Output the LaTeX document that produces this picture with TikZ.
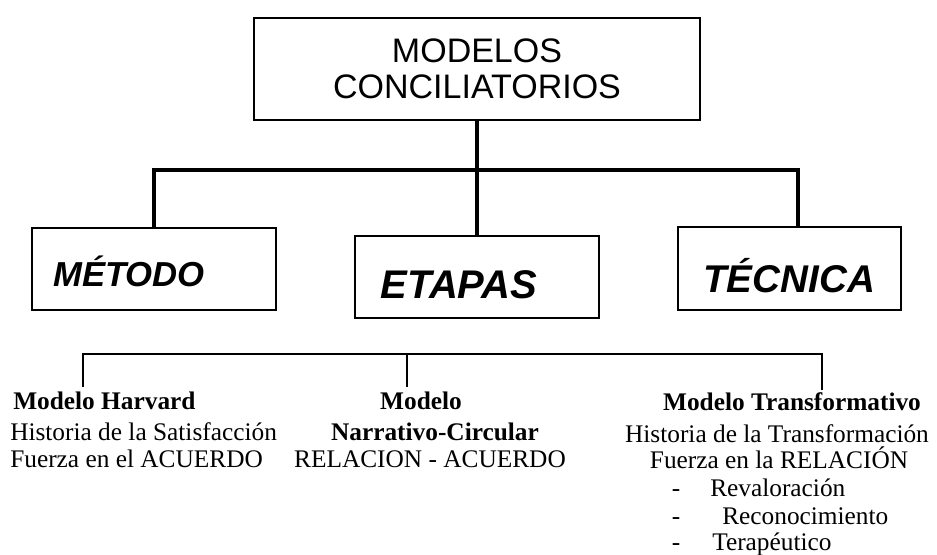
\documentclass[tikz,border=0pt]{standalone}
\usepackage{fontspec}
\setmainfont{Liberation Serif}
\newfontfamily\arialfont{Liberation Sans}
\begin{document}
\begin{tikzpicture}[x=0.75pt,y=-0.75pt,
  box/.style={draw,line width=1.2pt,inner sep=0pt},
  trunk/.style={line width=2.8pt},
  bracket/.style={line width=1pt},
  head/.style={font=\arialfont\fontsize{25.5}{27}\selectfont,align=center},
  branch/.style={font=\arialfont\bfseries\itshape\fontsize{#1}{#1}\selectfont,inner sep=0pt,anchor=base},
  lower/.style={font=\fontsize{19}{21}\selectfont,inner sep=0pt,anchor=base}]
\useasboundingbox (0,0) rectangle (937,555);

\node[box,head,minimum width=334.5pt,minimum height=76.5pt] (modelos) at (477,69) {MODELOS\\CONCILIATORIOS};
\node[box,minimum width=183pt,minimum height=61.5pt] (metodo) at (154,269) {};
\node[box,minimum width=183pt,minimum height=61.5pt] (etapas) at (477,277) {};
\node[box,minimum width=167.25pt,minimum height=62.25pt] (tecnica) at (789.5,268.5) {};
\node[branch=26] (metodoT) at (129,287) {MÉTODO};
\node[branch=30] (etapasT) at (459,299) {ETAPAS};
\node[branch=29] (tecnicaT) at (789,293) {TÉCNICA};

\coordinate (barR) at (798,170);
\draw[trunk] (modelos) -- (etapas);
\draw[trunk] (metodo.north) |- (barR) -- (barR |- tecnica.north);

\coordinate (brL) at (83,387);
\coordinate (brM) at (407,354);
\coordinate (brR) at (822,390);
\draw[bracket] (brL) |- (brR |- brM) -- (brR);
\draw[bracket] (brM) -- (brM |- brL);

\node[lower,anchor=base west] (harvard) at (13,409) {\bfseries Modelo Harvard};
\node[lower,anchor=base west] (harvard2) at (10,440) {Historia de la Satisfacción};
\node[lower,anchor=base west] (harvard3) at (10,467) {Fuerza en el ACUERDO};

\node[lower] (narrativo) at (421,409) {\bfseries Modelo};
\node[lower] (narrativo2) at (435,440) {\bfseries Narrativo-Circular};
\node[lower] (narrativo3) at (430,467) {RELACION - ACUERDO};

\node[lower] (transf) at (792,410) {\bfseries Modelo Transformativo};
\node[lower] (transf2) at (777,442) {Historia de la Transformación};
\node[lower] (transf3) at (779,468) {Fuerza en la RELACIÓN};
\node[lower] (dash1) at (676,496) {-};
\node[lower] (dash2) at (676,524) {-};
\node[lower] (dash3) at (676,550) {-};
\node[lower,anchor=base west] (reval) at (710,496) {Revaloración};
\node[lower,anchor=base west] (recon) at (722,524) {Reconocimiento};
\node[lower,anchor=base west] (terap) at (712,550) {Terapéutico};
\end{tikzpicture}
\end{document}
